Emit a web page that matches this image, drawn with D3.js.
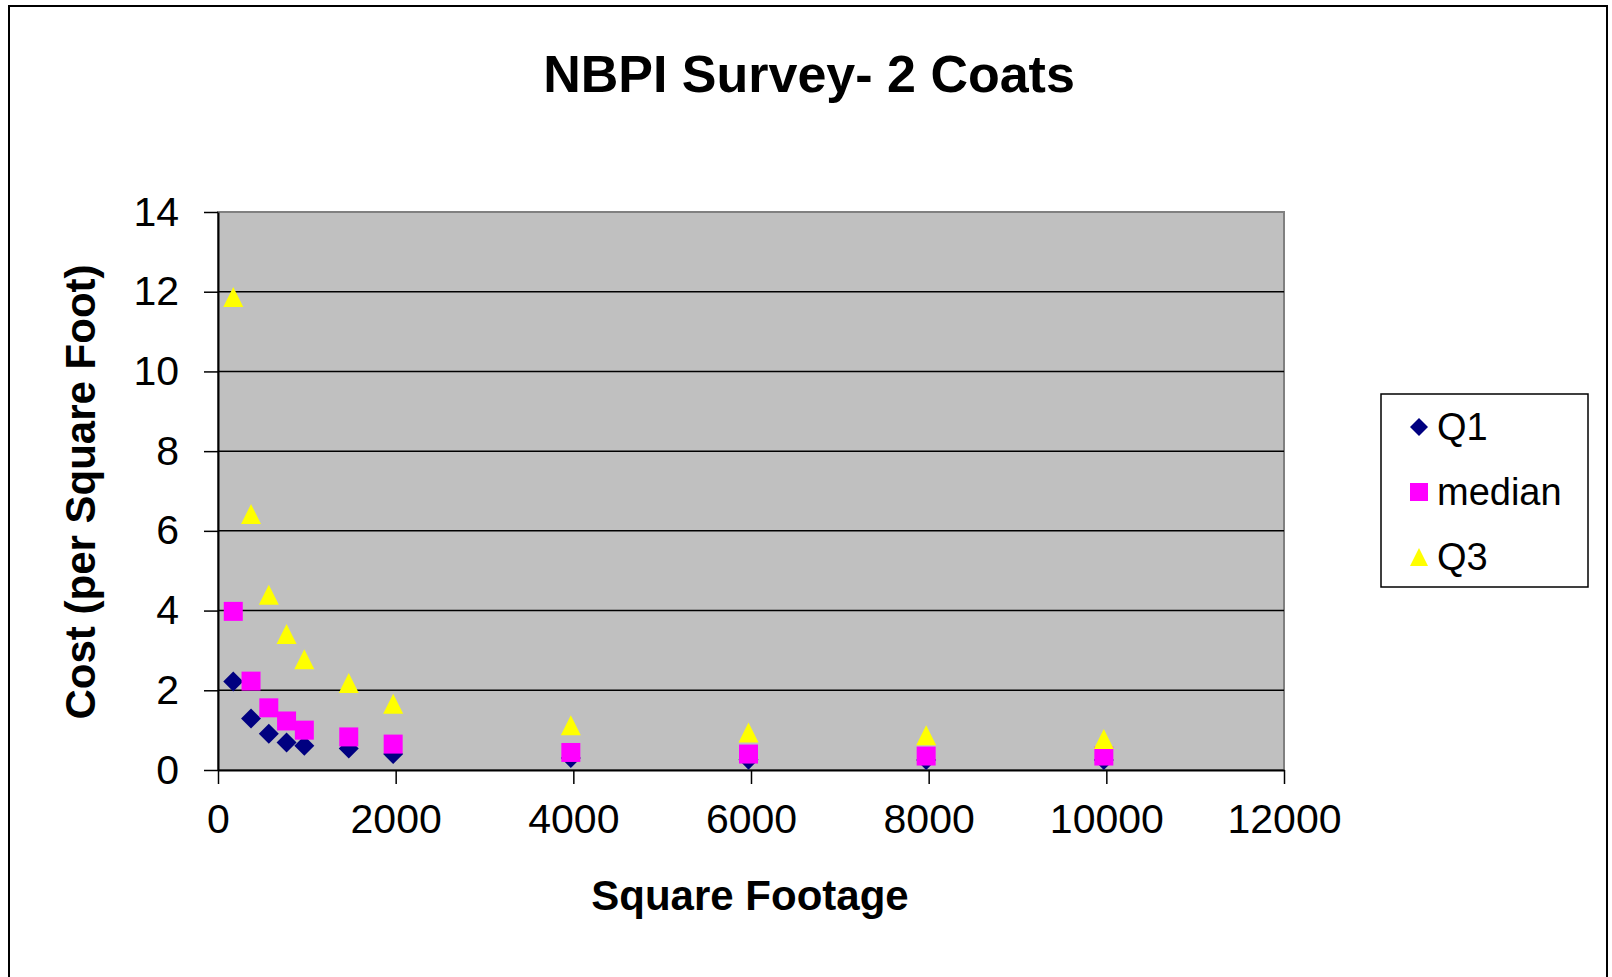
<!DOCTYPE html>
<html lang="en">
<head>
  <meta charset="UTF-8">
  <title>NBPI Survey- 2 Coats</title>
  <script src="https://cdn.jsdelivr.net/npm/d3@7"></script>
  <style>
    body { margin: 0; background: #fff; }
    text { font-family: "Liberation Sans", Arial, sans-serif; }
  </style>
</head>
<body>
<div id="chart"></div>
<script>

// values
var sqft = [200, 400, 600, 800, 1000, 1500, 2000, 4000, 6000, 8000, 10000];
var q1 = [2.22, 1.29, 0.91, 0.69, 0.61, 0.54, 0.40, 0.30, 0.26, 0.25, 0.25];
var median = [3.98, 2.23, 1.56, 1.23, 1.00, 0.83, 0.65, 0.44, 0.40, 0.35, 0.35];
var q3 = [11.87, 6.42, 4.40, 3.41, 2.78, 2.18, 1.66, 1.12, 0.94, 0.87, 0.78];
var xTicks = [0, 2000, 4000, 6000, 8000, 10000, 12000];
var yTicks = [0, 2, 4, 6, 8, 10, 12, 14];
var seriesNames = ["Q1", "median", "Q3"];

var W = 1612, H = 977;
var plot = {left: 218, right: 1284, top: 212, bottom: 770};
var markerShift = -2.5; // excel draws markers a little left of the value

var svg = d3.select("#chart")
    .append("svg")
    .attr("width", W)
    .attr("height", H);

// outer chart border
svg.append("rect")
    .attr("x", 9).attr("y", 6)
    .attr("width", 1598).attr("height", 1000)
    .attr("fill", "#fff")
    .attr("stroke", "#000")
    .attr("stroke-width", 2);

var xScale = d3.scaleLinear().domain([0, 12000]).range([plot.left, plot.right]);
var yScale = d3.scaleLinear().domain([0, 14]).range([plot.bottom, plot.top]);

// plot area
svg.append("rect")
    .attr("x", plot.left).attr("y", plot.top)
    .attr("width", plot.right - plot.left)
    .attr("height", plot.bottom - plot.top)
    .attr("fill", "#c0c0c0")
    .attr("stroke", "#808080")
    .attr("stroke-width", 2);

svg.append("g")
    .selectAll("line")
    .data(yTicks.filter(function(d){ return d > 0 && d < 14; }))
    .enter().append("line")
    .attr("x1", plot.left).attr("x2", plot.right)
    .attr("y1", function(d){ return yScale(d); })
    .attr("y2", function(d){ return yScale(d); })
    .attr("stroke", "#000")
    .attr("stroke-width", 1.5);

// axes
var xAxis = svg.append("g")
    .attr("transform", "translate(0," + plot.bottom + ")")
    .call(d3.axisBottom(xScale).tickValues(xTicks).tickFormat(d3.format("d"))
        .tickSize(14).tickSizeOuter(0).tickPadding(20));

var yAxis = svg.append("g")
    .attr("transform", "translate(" + plot.left + ",0)")
    .call(d3.axisLeft(yScale).tickValues(yTicks)
        .tickSize(14).tickSizeOuter(0).tickPadding(25));

[xAxis, yAxis].forEach(function(ax) {
    ax.selectAll(".domain").attr("stroke", "#000").attr("stroke-width", 2);
    ax.selectAll(".tick line").attr("stroke", "#000").attr("stroke-width", 1.5);
    ax.selectAll("text")
        .attr("fill", "#000")
        .style("font-family", "'Liberation Sans', Arial, sans-serif")
        .style("font-size", "41px");
});

// markers
function diamondType() {
    return {draw: function(ctx, size) {
        var r = Math.sqrt(size) / 2;
        ctx.moveTo(0, -r); ctx.lineTo(r, 0); ctx.lineTo(0, r); ctx.lineTo(-r, 0); ctx.closePath();
    }};
}
function squareType() {
    return {draw: function(ctx, size) {
        var r = Math.sqrt(size) / 2;
        ctx.rect(-r, -r, 2 * r, 2 * r);
    }};
}
function triangleType() {
    return {draw: function(ctx, size) {
        var r = Math.sqrt(size) / 2;
        ctx.moveTo(0, -r); ctx.lineTo(r, r); ctx.lineTo(-r, r); ctx.closePath();
    }};
}

var series = [
    {name: "Q1", values: q1, color: "#000080", type: diamondType(), size: 20},
    {name: "median", values: median, color: "#ff00ff", type: squareType(), size: 19},
    {name: "Q3", values: q3, color: "#ffff00", type: triangleType(), size: 20}
];

series.forEach(function(s) {
    svg.append("g")
        .selectAll("path")
        .data(s.values)
        .enter().append("path")
        .attr("d", d3.symbol().type(s.type).size(s.size * s.size))
        .attr("transform", function(d, i) {
            return "translate(" + (xScale(sqft[i]) + markerShift) + "," + yScale(d) + ")";
        })
        .attr("fill", s.color);
});

// titles
svg.append("text")
    .attr("x", 809).attr("y", 92)
    .attr("text-anchor", "middle")
    .style("font-size", "52px").style("font-weight", "bold")
    .text("NBPI Survey- 2 Coats");

svg.append("text")
    .attr("x", 750).attr("y", 910)
    .attr("text-anchor", "middle")
    .style("font-size", "42px").style("font-weight", "bold")
    .text("Square Footage");

svg.append("text")
    .attr("transform", "translate(95,492) rotate(-90)")
    .attr("text-anchor", "middle")
    .style("font-size", "42px").style("font-weight", "bold")
    .text("Cost (per Square Foot)");

// legend
var legend = svg.append("g").attr("transform", "translate(1381,394)");

legend.append("rect")
    .attr("width", 207).attr("height", 193)
    .attr("fill", "#fff")
    .attr("stroke", "#000")
    .attr("stroke-width", 1.5);

legend.selectAll("path")
    .data(series)
    .enter().append("path")
    .attr("d", function(d) { return d3.symbol().type(d.type).size(18 * 18)(); })
    .attr("transform", function(d, i) { return "translate(38," + (33 + i * 65) + ")"; })
    .attr("fill", function(d) { return d.color; });

legend.selectAll("text")
    .data(seriesNames)
    .enter().append("text")
    .attr("x", 56)
    .attr("y", function(d, i) { return 33 + i * 65; })
    .attr("dy", "0.35em")
    .style("font-size", "38px")
    .text(function(d) { return d; });

</script>
</body>
</html>
